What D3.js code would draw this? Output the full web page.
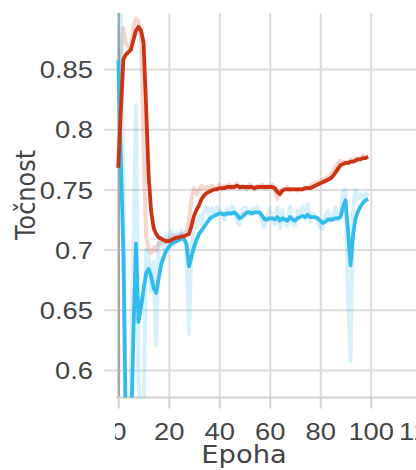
<!DOCTYPE html>
<html>
<head>
<meta charset="utf-8">
<script src="https://cdn.jsdelivr.net/npm/d3@7"></script>
<style>
  html, body { margin: 0; padding: 0; background: #fff; }
  svg { display: block; font-family: "DejaVu Sans", sans-serif; }
</style>
</head>
<body>
<div id="chart"></div>
<script>
// values read per epoch (index = epoch)
const redSmooth = [
  0.768, 0.815, 0.858, 0.862, 0.864, 0.866, 0.874, 0.882, 0.885, 0.882,
  0.872, 0.820, 0.762, 0.732, 0.718, 0.713, 0.710, 0.709, 0.708, 0.707,
  0.707, 0.708, 0.709, 0.710, 0.710, 0.711, 0.711, 0.712, 0.713, 0.720,
  0.728, 0.733, 0.737, 0.742, 0.745, 0.747, 0.748, 0.749, 0.750, 0.750,
  0.751, 0.751, 0.751, 0.752, 0.752, 0.752, 0.752, 0.753, 0.752, 0.752,
  0.752, 0.752, 0.752, 0.752, 0.751, 0.752, 0.752, 0.752, 0.752, 0.752,
  0.752, 0.752, 0.751, 0.748, 0.746, 0.749, 0.750, 0.750, 0.750, 0.750,
  0.750, 0.750, 0.750, 0.750, 0.751, 0.751, 0.751, 0.752, 0.753, 0.754,
  0.755, 0.756, 0.757, 0.758, 0.759, 0.761, 0.764, 0.767, 0.770, 0.771,
  0.772, 0.772, 0.773, 0.773, 0.774, 0.775, 0.775, 0.776, 0.776, 0.777
];
const redRaw = [
  0.768, 0.862, 0.884, 0.872, 0.868, 0.870, 0.885, 0.892, 0.890, 0.876,
  0.790, 0.712, 0.700, 0.697, 0.702, 0.699, 0.706, 0.705, 0.707, 0.706,
  0.709, 0.710, 0.712, 0.709, 0.712, 0.713, 0.711, 0.716, 0.724, 0.742,
  0.751, 0.746, 0.750, 0.753, 0.751, 0.752, 0.750, 0.753, 0.752, 0.751,
  0.754, 0.750, 0.753, 0.752, 0.754, 0.751, 0.753, 0.755, 0.751, 0.753,
  0.752, 0.750, 0.754, 0.752, 0.750, 0.753, 0.752, 0.754, 0.751, 0.753,
  0.752, 0.754, 0.750, 0.742, 0.747, 0.751, 0.750, 0.752, 0.749, 0.751,
  0.750, 0.749, 0.751, 0.750, 0.752, 0.751, 0.753, 0.754, 0.755, 0.756,
  0.757, 0.758, 0.759, 0.760, 0.762, 0.765, 0.769, 0.771, 0.774, 0.772,
  0.773, 0.772, 0.775, 0.774, 0.776, 0.776, 0.775, 0.778, 0.777, 0.778
];
const blueSmooth = [
  0.857, 0.775, 0.700, 0.550, 0.500, 0.540, 0.630, 0.705, 0.640, 0.652,
  0.667, 0.680, 0.684, 0.678, 0.668, 0.664, 0.676, 0.688, 0.694, 0.699,
  0.702, 0.705, 0.706, 0.707, 0.708, 0.709, 0.709, 0.705, 0.686, 0.694,
  0.702, 0.708, 0.713, 0.716, 0.719, 0.722, 0.725, 0.727, 0.728, 0.729,
  0.730, 0.730, 0.729, 0.730, 0.730, 0.730, 0.731, 0.729, 0.726, 0.727,
  0.729, 0.731, 0.731, 0.730, 0.731, 0.731, 0.731, 0.728, 0.725, 0.725,
  0.726, 0.726, 0.725, 0.727, 0.724, 0.726, 0.725, 0.724, 0.727, 0.725,
  0.724, 0.726, 0.727, 0.728, 0.727, 0.729, 0.727, 0.727, 0.727, 0.726,
  0.724, 0.722, 0.723, 0.725, 0.725, 0.725, 0.726, 0.726, 0.727, 0.735,
  0.741, 0.716, 0.687, 0.712, 0.726, 0.732, 0.736, 0.739, 0.741, 0.742
];
const blueRaw = [
  0.857, 0.905, 0.760, 0.480, 0.450, 0.600, 0.700, 0.820, 0.590, 0.560,
  0.560, 0.700, 0.695, 0.665, 0.690, 0.620, 0.705, 0.710, 0.700, 0.712,
  0.706, 0.716, 0.703, 0.714, 0.708, 0.716, 0.711, 0.700, 0.630, 0.705,
  0.718, 0.722, 0.728, 0.722, 0.732, 0.736, 0.728, 0.734, 0.731, 0.735,
  0.733, 0.731, 0.725, 0.734, 0.731, 0.736, 0.733, 0.724, 0.720, 0.731,
  0.735, 0.733, 0.729, 0.734, 0.732, 0.736, 0.730, 0.722, 0.719, 0.727,
  0.734, 0.724, 0.721, 0.735, 0.718, 0.733, 0.722, 0.720, 0.736, 0.721,
  0.720, 0.732, 0.730, 0.736, 0.725, 0.738, 0.723, 0.730, 0.728, 0.723,
  0.718, 0.717, 0.728, 0.732, 0.724, 0.726, 0.735, 0.724, 0.731, 0.748,
  0.750, 0.660, 0.607, 0.735, 0.750, 0.742, 0.746, 0.742, 0.747, 0.744
];
const xTicks = [0, 20, 40, 60, 80, 100, 120];
const yTicks = [0.6, 0.65, 0.7, 0.75, 0.8, 0.85];
const yTickLabels = ['0.6', '0.65', '0.7', '0.75', '0.8', '0.85'];

const W = 416, H = 470;
const plot = { left: 116, right: 416, top: 13, bottom: 397.5 };
const stretch = 1.14; // the reference text is wider than it is tall

const svg = d3.select('#chart').append('svg')
  .attr('width', W)
  .attr('height', H);

const x = d3.scaleLinear().domain([0, 120]).range([118.3, 421.2]);
const y = d3.scaleLinear().domain([0.6, 0.85]).range([370, 69]);

const defs = svg.append('defs');
defs.append('clipPath').attr('id', 'plot-clip')
  .append('rect')
  .attr('x', plot.left).attr('y', plot.top)
  .attr('width', plot.right - plot.left).attr('height', plot.bottom - plot.top);
defs.append('clipPath').attr('id', 'xlab-clip')
  .append('rect')
  .attr('x', 115).attr('y', plot.bottom)
  .attr('width', W).attr('height', H);

// horizontal grid + y ticks
const gy = svg.append('g')
  .attr('transform', `translate(${plot.right},0)`)
  .call(d3.axisLeft(y).tickValues(yTicks).tickSize(plot.right - 104)
    .tickFormat((d, i) => yTickLabels[i]));
gy.select('.domain').remove();
gy.selectAll('.tick line').attr('stroke', '#dcdcdc').attr('stroke-width', 2);
gy.selectAll('.tick text')
  .attr('font-size', 24)
  .attr('fill', '#444')
  .attr('x', 0)
  .attr('dy', '0.36em')
  .attr('transform', `translate(${93 - plot.right},0) scale(${stretch},1)`);

// vertical grid
const gx = svg.append('g')
  .attr('clip-path', 'url(#plot-clip)')
  .append('g')
  .attr('transform', `translate(0,${plot.top})`)
  .call(d3.axisBottom(x).tickValues(xTicks).tickSize(plot.bottom - plot.top).tickFormat(''));
gx.select('.domain').remove();
gx.selectAll('.tick line')
  .attr('stroke', d => d === 0 ? '#a8a8a8' : '#dcdcdc')
  .attr('stroke-width', d => d === 0 ? 2.5 : 2);

// bottom axis line
svg.append('line')
  .attr('x1', plot.left).attr('x2', plot.right)
  .attr('y1', plot.bottom).attr('y2', plot.bottom)
  .attr('stroke', '#d0d0d0').attr('stroke-width', 2);

// x ticks + labels
const xa = svg.append('g')
  .attr('clip-path', 'url(#xlab-clip)')
  .append('g')
  .attr('transform', `translate(0,${plot.bottom})`)
  .call(d3.axisBottom(x).tickValues(xTicks).tickSize(11));
xa.select('.domain').remove();
xa.selectAll('.tick line').attr('stroke', '#d0d0d0').attr('stroke-width', 2);
xa.selectAll('.tick text')
  .attr('font-size', 24)
  .attr('fill', '#444')
  .attr('y', 0)
  .attr('dy', 0)
  .attr('transform', `translate(0,42.5) scale(${stretch},1)`);

// lines
const line = d3.line()
  .x((d, i) => x(i))
  .y(d => y(d));

const lines = svg.append('g').attr('clip-path', 'url(#plot-clip)');

const series = [
  { values: redRaw, color: '#CC3311', opacity: 0.2, width: 4 },
  { values: blueRaw, color: '#33BBEE', opacity: 0.2, width: 4 },
  { values: blueSmooth, color: '#33BBEE', opacity: 1, width: 3.8 },
  { values: redSmooth, color: '#CC3311', opacity: 1, width: 3.8 }
];

series.forEach(s => {
  lines.append('path')
    .datum(s.values)
    .attr('fill', 'none')
    .attr('stroke', s.color)
    .attr('stroke-opacity', s.opacity)
    .attr('stroke-width', s.width)
    .attr('stroke-linejoin', 'round')
    .attr('d', line);
});

// axis titles
svg.append('text')
  .attr('transform', `translate(244,463) scale(${stretch},1)`)
  .attr('text-anchor', 'middle')
  .attr('font-size', 24)
  .attr('fill', '#444')
  .text('Epoha');

svg.append('text')
  .attr('transform', `translate(35,195) scale(${stretch},1) rotate(-90)`)
  .attr('text-anchor', 'middle')
  .attr('font-size', 24)
  .attr('fill', '#444')
  .text('Točnost');
</script>
</body>
</html>
